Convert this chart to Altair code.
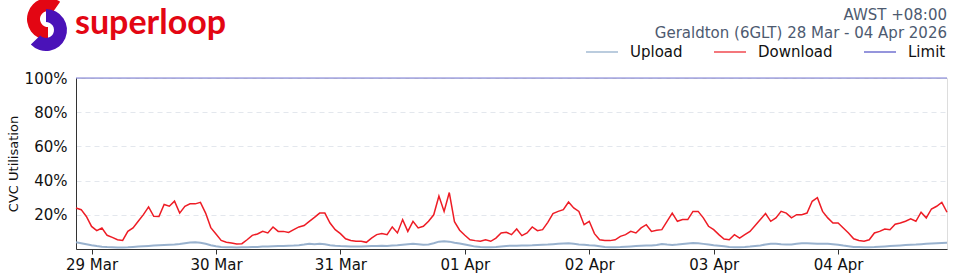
import altair as alt
import pandas as pd

# ---------------- data ----------------
START = "2026-03-28 21:00"   # first sample (AWST), hourly samples

download = [
    24, 23, 19, 13.2, 10.7, 12.3, 8, 6.8, 5.4, 5, 10.3, 12.3, 16.2, 20.1, 24.6, 19.1, 19, 26, 25, 28, 21, 25, 26.4, 26.4,
    27.3, 21, 12.5, 8.8, 5, 4, 3.5, 2.9, 3.1, 5.4, 8, 8.8, 10.3, 9.4, 12.9, 10.3, 10.3, 9.7, 11.3, 12.9, 13.7, 16.2, 18.5, 21,
    21, 15.2, 11.3, 9, 6, 5, 4.5, 4.5, 3.9, 6.4, 8.4, 9, 8.4, 12.9, 9.4, 17.2, 10.3, 16.2, 12.3, 13.3, 16.2, 20, 31, 22,
    33, 16, 11, 8, 5.4, 4.9, 4.5, 5.4, 4.5, 6.4, 9.4, 9.8, 8.4, 11.7, 7.8, 9.4, 12.9, 10.7, 11.3, 15.6, 20.7, 22, 23, 27.5,
    24, 22, 14.2, 16.2, 9, 5.4, 5, 4.9, 5.4, 7.4, 8.4, 10.3, 9.4, 12.3, 14.2, 10.3, 10.9, 11.3, 16.2, 21, 16.2, 17.2, 17.2, 22,
    22, 18.2, 13.3, 11.3, 8.4, 5.8, 5.4, 8.4, 6.4, 8.4, 10.3, 13.7, 17.2, 20.7, 16.2, 18.2, 22, 21, 18.2, 20.1, 20.1, 21, 27.9, 30,
    22, 18.2, 15.2, 15.2, 12.3, 9.4, 6, 5, 4.5, 5.4, 9.4, 10.3, 11.7, 11.3, 14.5, 15.2, 16.2, 17.6, 16.2, 21.5, 18.2, 23.4, 25, 27.3,
    21.5,
]

upload = [
    3.9, 3.4, 2.8, 2.2, 1.7, 1.3, 1.1, 1.0, 0.9, 0.9, 1.0, 1.2, 1.4, 1.6, 1.8, 2.0, 2.2, 2.4, 2.5, 2.6, 2.9, 3.4, 3.8, 3.9,
    3.7, 3.1, 2.2, 1.6, 1.2, 1.0, 1.0, 0.9, 1.0, 1.0, 1.1, 1.2, 1.4, 1.5, 1.6, 1.7, 1.8, 1.9, 2.0, 2.2, 2.6, 3.1, 2.8, 3.1,
    2.8, 2.2, 1.9, 1.7, 1.6, 1.5, 1.5, 1.5, 1.6, 1.7, 1.8, 1.9, 1.8, 2.0, 2.2, 2.5, 2.8, 3.1, 2.8, 2.5, 2.7, 3.4, 4.3, 4.6,
    4.3, 3.6, 3.2, 2.6, 2.0, 1.4, 1.1, 1.0, 1.0, 1.2, 1.5, 1.8, 1.9, 1.9, 2.0, 2.1, 2.2, 2.4, 2.5, 2.6, 2.8, 3.0, 3.2, 3.3,
    3.0, 2.7, 2.5, 2.2, 2.0, 1.6, 1.2, 1.0, 1.0, 1.1, 1.3, 1.5, 1.7, 1.9, 2.0, 2.1, 2.4, 2.9, 2.6, 2.4, 2.6, 2.9, 3.2, 3.5,
    3.4, 3.0, 2.6, 2.2, 1.9, 1.6, 1.2, 1.0, 1.0, 1.1, 1.4, 1.8, 2.1, 2.6, 3.0, 3.1, 2.8, 2.6, 2.7, 3.0, 3.3, 3.3, 3.2, 3.1,
    3.0, 3.0, 2.8, 2.5, 2.0, 1.6, 1.2, 1.1, 1.0, 1.0, 1.1, 1.3, 1.5, 1.7, 1.9, 2.1, 2.3, 2.5, 2.6, 2.8, 3.0, 3.2, 3.4, 3.5,
    3.6,
]

series_names = ["Upload", "Download", "Limit"]
series_colors = ["#8eaac9", "#ee1c25", "#4f4fc6"]
limit_value = [100]
y_ticks = [20, 40, 60, 80, 100]

brand = "superloop"
header_line1 = "AWST +08:00"
header_line2 = "Geraldton (6GLT) 28 Mar - 04 Apr 2026"
y_title = "CVC Utilisation"

# ---------------- tables ----------------
n = len(download)
times = pd.date_range(START, periods=n, freq="h")
dl_df = pd.DataFrame({"time": times, "series": "Download", "value": download})
ul_df = pd.DataFrame({"time": times, "series": "Upload", "value": upload[:n]})
lim_df = pd.DataFrame({"series": ["Limit"], "value": limit_value})

FONT = "DejaVu Sans"
W, H = 871, 171

color = alt.Color(
    "series:N",
    scale=alt.Scale(domain=series_names, range=series_colors),
    legend=alt.Legend(
        title=None,
        orient="none",
        direction="horizontal",
        legendX=509,
        legendY=-43,
        symbolType="stroke",
        symbolSize=1024,
        symbolStrokeWidth=1.6,
        labelFontSize=15,
        labelFont=FONT,
        labelColor="#111111",
        labelOffset=11,
        columnPadding=27,
        padding=0,
    ),
)

x_enc = alt.X(
    "time:T",
    scale=alt.Scale(nice=False),
    axis=alt.Axis(
        title=None,
        format="%d %b",
        tickCount={"interval": "day", "step": 1},
        labelFontSize=15,
        labelFont=FONT,
        labelColor="#111111",
        labelPadding=3,
        tickSize=5,
        tickColor="#333333",
        domainColor="#333333",
        grid=False,
        labelFlush=False,
    ),
)

y_enc = alt.Y(
    "value:Q",
    scale=alt.Scale(domain=[0, 100], nice=False),
    axis=alt.Axis(
        title=y_title,
        titleFontSize=13,
        titleFont=FONT,
        titleFontWeight="normal",
        titleColor="#111111",
        titlePadding=4,
        values=y_ticks,
        labelExpr="datum.value + '%'",
        labelFontSize=15,
        labelFont=FONT,
        labelColor="#111111",
        labelPadding=9,
        ticks=False,
        domainColor="#333333",
        grid=True,
        gridColor="#e3e7ed",
        gridDash=[5, 4],
        gridWidth=1,
    ),
)

upload_line = alt.Chart(ul_df).mark_line(strokeWidth=2, opacity=0.9).encode(
    x=x_enc, y=y_enc, color=color
)
download_line = alt.Chart(dl_df).mark_line(strokeWidth=1.5).encode(
    x=x_enc, y=y_enc, color=color
)
limit_rule = alt.Chart(lim_df).mark_rule(strokeWidth=1, opacity=0.75).encode(
    y=alt.Y("value:Q"), color=color
)

hdr = pd.DataFrame({"l1": [header_line1], "l2": [header_line2], "b": [brand]})
header1 = alt.Chart(hdr).mark_text(
    align="right", baseline="alphabetic", font=FONT, fontSize=15, color="#4d5a70"
).encode(text="l1:N", x=alt.value(W), y=alt.value(-58))
header2 = alt.Chart(hdr).mark_text(
    align="right", baseline="alphabetic", font=FONT, fontSize=15, color="#4d5a70"
).encode(text="l2:N", x=alt.value(W), y=alt.value(-40))
brand_text = alt.Chart(hdr).mark_text(
    align="left", baseline="alphabetic", font="Lato", fontSize=34, fontWeight="bold", color="#e30613"
).encode(text="b:N", x=alt.value(-1), y=alt.value(-44))

logo_top = alt.Chart(hdr).mark_arc(
    theta=3.14159, theta2=6.9, radius=21, radius2=8, color="#e30613"
).encode(x=alt.value(-28), y=alt.value(-59))
logo_bottom = alt.Chart(hdr).mark_arc(
    theta=0.0, theta2=3.95, radius=21, radius2=8, color="#4a12b8"
).encode(x=alt.value(-30), y=alt.value(-48))

chart = (
    alt.layer(
        limit_rule, upload_line, download_line,
        logo_top, logo_bottom, brand_text, header1, header2,
    )
    .properties(
        width=W,
        height=H,
        autosize=alt.AutoSizeParams(type="none"),
        padding={"left": 76, "top": 78, "right": 13, "bottom": 31},
    )
    .configure_view(stroke=None)
    .configure(font=FONT, background="white")
)

chart.save("out.html", embed_options={"renderer": "svg", "actions": False})
